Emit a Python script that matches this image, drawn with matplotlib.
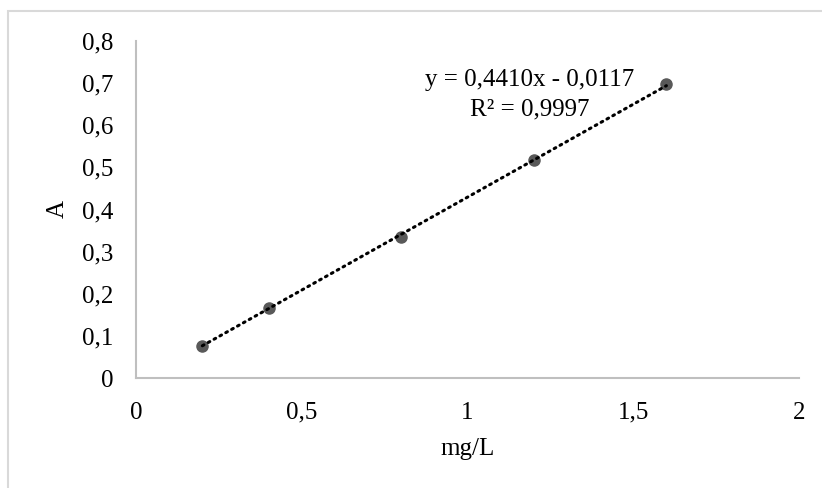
import numpy as np
import matplotlib.pyplot as plt
from matplotlib.patches import Rectangle

# Calibration data
conc = [0.2, 0.4, 0.8, 1.2, 1.6]          # mg/L
absorb = [0.077, 0.165, 0.334, 0.518, 0.698]  # A

slope = 0.4410
intercept = -0.0117
r2 = 0.9997

x_ticks = [0, 0.5, 1, 1.5, 2]
x_tick_labels = ['0', '0,5', '1', '1,5', '2']
y_ticks = [0, 0.1, 0.2, 0.3, 0.4, 0.5, 0.6, 0.7, 0.8]
y_tick_labels = ['0', '0,1', '0,2', '0,3', '0,4', '0,5', '0,6', '0,7', '0,8']

plt.rcParams['font.family'] = ['Liberation Serif', 'DejaVu Serif']
FS = 18

fig = plt.figure(figsize=(8.22, 4.88), dpi=100)
ax = fig.add_axes([0.1655, 0.2254, 0.8065, 0.6906])

# light frame around the chart area
fig.patches.append(Rectangle((8 / 822, -0.1), 1.2, 1.1 - 11 / 488,
                             transform=fig.transFigure, fill=False,
                             edgecolor='#d9d9d9', linewidth=1.5))

ax.plot(conc, absorb, 'o', color='#595959', markersize=8, zorder=2)

# linear trendline
xs = np.array([min(conc), max(conc)])
ax.plot(xs, slope * xs + intercept, color='black', linewidth=2.2,
        linestyle=(0, (0.6, 1.6)), dash_capstyle='round', zorder=3)

ax.text(1.187, 0.694, f'y = {slope:.4f}x - {abs(intercept):.4f}'.replace('.', ','),
        ha='center', va='baseline', fontsize=FS)
ax.text(1.187, 0.624, f'R² = {r2:.4f}'.replace('.', ','),
        ha='center', va='baseline', fontsize=FS)

ax.set_xlim(0, 2)
ax.set_ylim(0, 0.8)
ax.set_xticks(x_ticks)
ax.set_xticklabels(x_tick_labels)
ax.set_yticks(y_ticks)
ax.set_yticklabels(y_tick_labels)
ax.tick_params(length=0, labelsize=FS, pad=17)
ax.tick_params(axis='y', pad=16)

ax.set_xlabel('mg/L', fontsize=FS, labelpad=10)
ax.set_ylabel('A', fontsize=FS, labelpad=10)

for side in ['top', 'right']:
    ax.spines[side].set_visible(False)
for side in ['left', 'bottom']:
    ax.spines[side].set_color('#bfbfbf')
    ax.spines[side].set_linewidth(1.5)

fig.savefig('out.png', dpi=100)
